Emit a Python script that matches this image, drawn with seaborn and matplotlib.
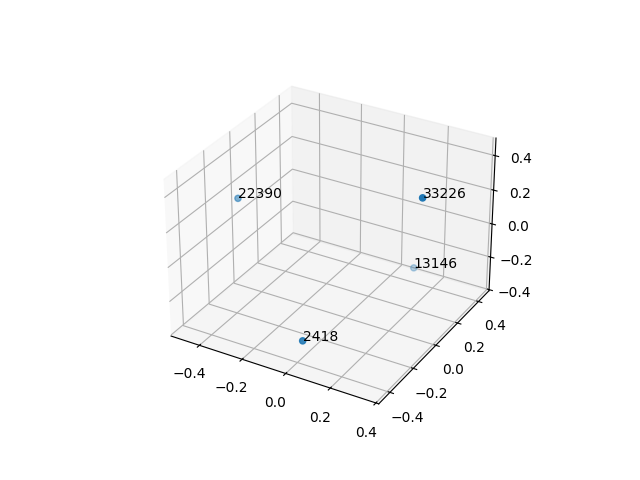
import matplotlib
matplotlib.use("Agg")
import matplotlib.pyplot as plt
import seaborn as sns

labels = ["2418", "22390", "33226", "13146"]
xs = [0.042, -0.475, 0.352, 0.09]
ys = [-0.43, -0.048, -0.031, 0.44]
zs = [-0.24, 0.159, 0.443, -0.349]

fig = plt.figure(figsize=(6.4, 4.8), dpi=100)
ax = fig.add_subplot(projection="3d")
ax.scatter(xs, ys, zs, color=sns.color_palette("tab10")[0])
for x, y, z, t in zip(xs, ys, zs, labels):
    ax.text(x, y, z, t)
fig.savefig("out.png", dpi=100)
